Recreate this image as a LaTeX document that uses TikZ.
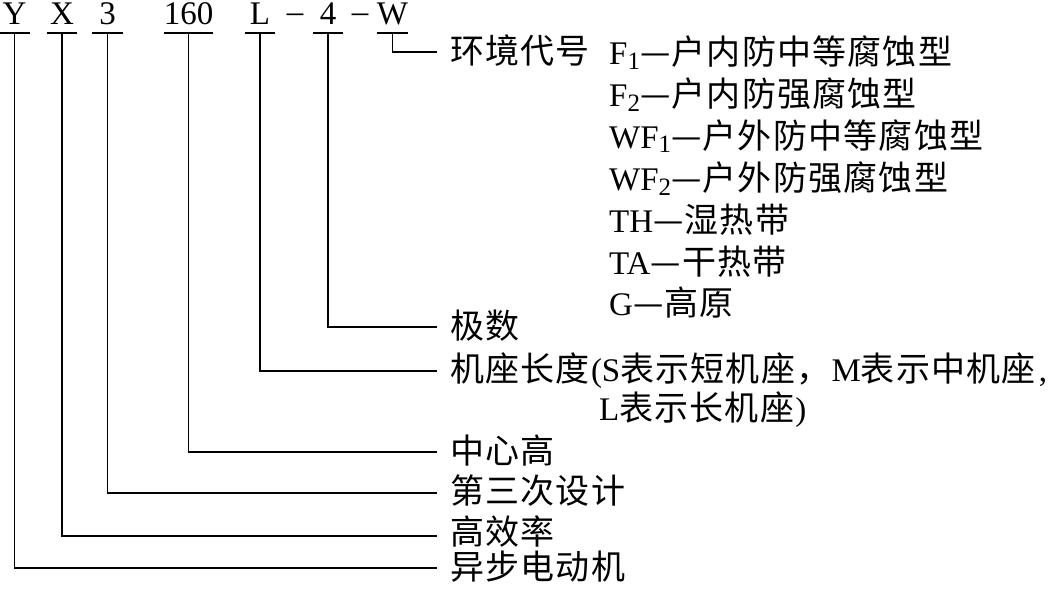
\documentclass[tikz,border=0pt]{standalone}
\usepackage{fontspec}
\setmainfont{Liberation Serif}
\newfontfamily\cjk{Noto Sans CJK SC}
\makeatletter
\def\cjsp#1{\ifx#1\relax\else#1\kern1.2pt\expandafter\cjsp\fi}
\newcommand\cj[1]{{\fontsize{34}{40}\cjk\selectfont\cjsp#1\relax}}
\newcommand\mysub[1]{\raisebox{-5pt}{\fontsize{25}{25}\selectfont #1}}
\makeatother
\tikzset{
  code/.style={anchor=base, inner sep=0pt, text depth=8pt, minimum width=30pt, font=\fontsize{33}{33}\selectfont},
  dashsign/.style={anchor=base, inner sep=0pt, text height=12pt, text depth=0pt, font=\fontsize{33}{33}\selectfont},
  lbl/.style={anchor=base west, inner sep=0pt, font=\fontsize{33}{40}\selectfont},
  conn/.style={line width=1.5pt, line join=miter}
}
\begin{document}
\begin{tikzpicture}[x=1pt,y=-1pt]
\useasboundingbox (0,0) rectangle (1054,591);
% code letters
\node[code] (Y) at (14.5,25) {Y};
\node[code] (X) at (62,25) {X};
\node[code] (n3) at (107.5,25) {3};
\node[code,minimum width=49pt] (n160) at (188.5,25) {160};
\node[code] (L) at (260,25) {L};
\node[dashsign] (d1) at (295,23) {–};
\node[code] (n4) at (328,25) {4};
\node[dashsign] (d2) at (360,23) {–};
\node[code] (W) at (392.5,25) {W};
% underlines
\foreach \n in {Y,X,n3,n160,L,n4,W}
  \draw[conn] (\n.south west) -- (\n.south east);
% line ends
\coordinate (eW) at (437,52);
\coordinate (e4) at (437,327);
\coordinate (eL) at (437,371);
\coordinate (e160) at (437,452);
\coordinate (e3) at (437,493);
\coordinate (eX) at (437,536);
\coordinate (eY) at (437,568);
% connectors
\draw[conn] (W.south) |- (eW);
\draw[conn] (n4.south) |- (e4);
\draw[conn] (L.south) |- (eL);
\draw[conn] (n160.south) |- (e160);
\draw[conn] (n3.south) |- (e3);
\draw[conn] (X.south) |- (eX);
\draw[conn] (Y.south) |- (eY);
% labels
\node[lbl] (lW) at (450,64) {\cj{环境代号}};
\node[lbl] (f1) at (609,65) {F\mysub{1}\cj{—户内防中等腐蚀型}};
\node[lbl] (f2) at (609,107) {F\mysub{2}\cj{—户内防强腐蚀型}};
\node[lbl] (f3) at (609,148) {WF\mysub{1}\cj{—户外防中等腐蚀型}};
\node[lbl] (f4) at (609,190) {WF\mysub{2}\cj{—户外防强腐蚀型}};
\node[lbl] (f5) at (609,232) {TH\cj{—湿热带}};
\node[lbl] (f6) at (609,274) {TA\cj{—干热带}};
\node[lbl] (f7) at (609,315) {G\cj{—高原}};
\node[lbl] (l4) at (450,338) {\cj{极数}};
\node[lbl] (lL) at (450,381) {\cj{机座长度}(S\cj{表示短机座，}M\cj{表示中机座}\kern2pt,};
\node[lbl] (lL2) at (599,420) {L\cj{表示长机座})};
\node[lbl] (l160) at (450,463) {\cj{中心高}};
\node[lbl] (l3) at (450,503) {\cj{第三次设计}};
\node[lbl] (lX) at (450,544) {\cj{高效率}};
\node[lbl] (lY) at (450,579) {\cj{异步电动机}};
\end{tikzpicture}
\end{document}
